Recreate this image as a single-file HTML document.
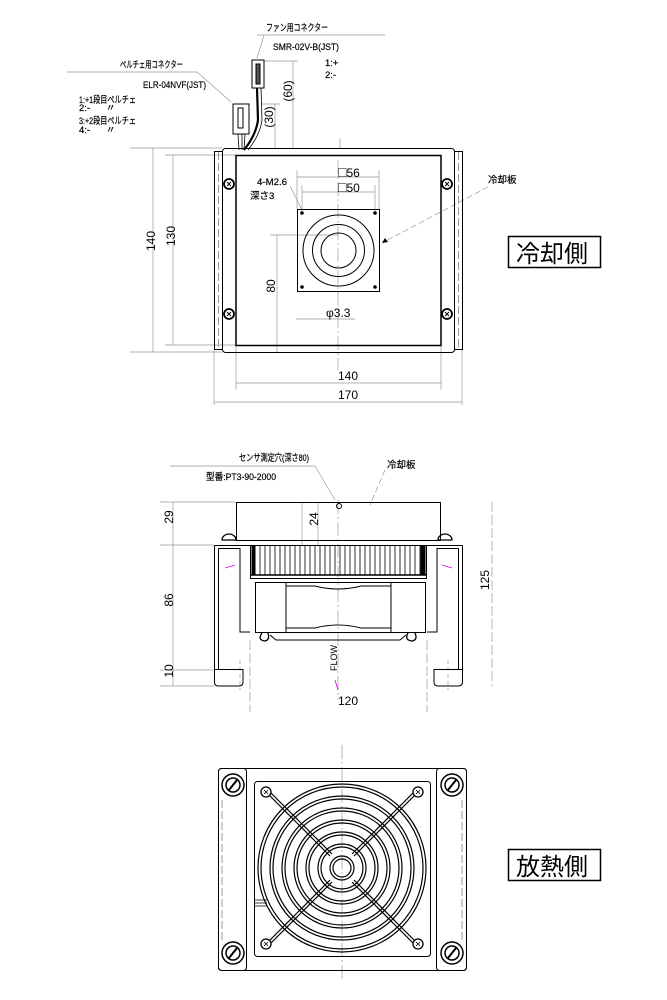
<!DOCTYPE html>
<html><head><meta charset="utf-8"><style>
html,body{margin:0;padding:0;background:#fff}
svg{display:block}
text{font-family:"Liberation Sans","Noto Sans CJK JP",sans-serif;fill:#000}
.t{font-size:12px}
.s{font-size:9.5px;stroke:#000;stroke-width:0.2}
</style></head><body>
<svg width="667" height="1000" viewBox="0 0 667 1000" xmlns="http://www.w3.org/2000/svg">
<g fill="none" stroke="#000" stroke-width="1">
<g stroke="#999" stroke-width="0.7">
<line x1="257" y1="35" x2="385" y2="35"/>
<line x1="67" y1="72" x2="197" y2="72"/>
<line x1="197" y1="72" x2="231" y2="102"/>
<line x1="264" y1="35" x2="257" y2="58"/>
<line x1="264" y1="61" x2="298" y2="61"/>
<line x1="293" y1="61" x2="293" y2="148"/>
<line x1="262" y1="104" x2="280" y2="104"/>
<line x1="275" y1="104" x2="275" y2="148"/>
<line x1="340" y1="138" x2="340" y2="148"/>
<line x1="130" y1="148" x2="222" y2="148"/>
<line x1="130" y1="352" x2="222" y2="352"/>
<line x1="153" y1="148" x2="153" y2="352"/>
<line x1="165" y1="155" x2="236" y2="155"/>
<line x1="165" y1="345" x2="236" y2="345"/>
<line x1="173" y1="155" x2="173" y2="345"/>
<line x1="236" y1="345" x2="236" y2="390"/>
<line x1="441" y1="345" x2="441" y2="390"/>
<line x1="236" y1="383" x2="441" y2="383"/>
<line x1="214" y1="350" x2="214" y2="405"/>
<line x1="462" y1="350" x2="462" y2="405"/>
<line x1="214" y1="402" x2="462" y2="402"/>
<line x1="270" y1="235" x2="338" y2="235"/>
<line x1="277" y1="235" x2="277" y2="352"/>
<line x1="297" y1="170" x2="297" y2="209"/>
<line x1="379" y1="170" x2="379" y2="209"/>
<line x1="297" y1="177" x2="379" y2="177"/>
<line x1="302" y1="185" x2="302" y2="212"/>
<line x1="375" y1="185" x2="375" y2="212"/>
<line x1="302" y1="192" x2="375" y2="192"/>
<line x1="296" y1="319" x2="355" y2="319"/>
<line x1="290" y1="186" x2="302" y2="210"/>
<line x1="338" y1="160" x2="338" y2="370" stroke-dasharray="14 3 2 3"/>
<line x1="488" y1="187" x2="382" y2="243" stroke-dasharray="6 3"/>
</g>
<rect x="252" y="60" width="12" height="28"/>
<rect x="256" y="64" width="4" height="20" fill="#555"/>
<path d="M257 88 L258 120 Q256 135 244 150" stroke-width="2.2"/>
<path d="M261 88 L262 120 Q260 135 248 150" stroke-width="0.8"/>
<rect x="233" y="104" width="16" height="30"/>
<rect x="238" y="108" width="5" height="20"/>
<path d="M238 134 L239 150 M242 134 L242 150 M245 134 L244 150" stroke-width="0.8"/>
<rect x="214.5" y="151.5" width="8" height="198"/>
<rect x="454.5" y="151.5" width="8" height="198"/>
<line x1="218.5" y1="152" x2="218.5" y2="349" stroke="#999" stroke-dasharray="8 3"/>
<line x1="458.5" y1="152" x2="458.5" y2="349" stroke="#999" stroke-dasharray="8 3"/>
<rect x="222.5" y="148.5" width="232" height="204" rx="3"/>
<rect x="236" y="155.5" width="205" height="190" stroke-width="1.5"/>
<g stroke-width="1.8"><circle cx="229" cy="184" r="5"/><circle cx="229" cy="314" r="5"/><circle cx="447" cy="184" r="5"/><circle cx="447" cy="314" r="5"/></g>
<g stroke-width="0.9"><path d="M227 182l4 4M231 182l-4 4M227 312l4 4M231 312l-4 4M445 182l4 4M449 182l-4 4M445 312l4 4M449 312l-4 4"/></g>
<rect x="297.5" y="209.5" width="82" height="82"/>
<circle cx="338.5" cy="250.5" r="35.5"/>
<circle cx="338.5" cy="250.5" r="26"/>
<circle cx="338.5" cy="250.5" r="17.5"/>
<g fill="#000" stroke="none"><circle cx="302" cy="213" r="1.8"/><circle cx="375" cy="213" r="1.8"/><circle cx="302" cy="287" r="1.8"/><circle cx="375" cy="287" r="1.8"/></g>
<path d="M382 243 l6 -1 l-3 -4z" fill="#000" stroke="none"/>
<rect x="508.5" y="236.5" width="92" height="31" stroke-width="1.5"/>

<g stroke="#999" stroke-width="0.7">
<line x1="170" y1="466" x2="315" y2="466"/>
<line x1="315" y1="466" x2="335" y2="500"/>
<line x1="385" y1="470" x2="370" y2="505" stroke-dasharray="6 3"/>
<line x1="160" y1="502" x2="236" y2="502"/>
<line x1="160" y1="545" x2="214" y2="545"/>
<line x1="160" y1="670" x2="214" y2="670"/>
<line x1="160" y1="686" x2="214" y2="686"/>
<line x1="173" y1="502" x2="173" y2="686"/>
<line x1="318" y1="502" x2="318" y2="545"/>
<line x1="302" y1="502" x2="302" y2="545"/>
<line x1="492" y1="502" x2="492" y2="686" stroke-dasharray="10 3"/>
<line x1="250" y1="640" x2="250" y2="712" stroke-dasharray="10 3"/>
<line x1="427" y1="640" x2="427" y2="712" stroke-dasharray="10 3"/>
<line x1="240" y1="660" x2="240" y2="690" stroke-dasharray="4 3"/>
<line x1="448" y1="660" x2="448" y2="690" stroke-dasharray="4 3"/>
<line x1="338" y1="500" x2="338" y2="700" stroke-dasharray="14 3 2 3"/>
</g>
<rect x="236.5" y="502.5" width="204" height="38"/>
<circle cx="339" cy="506" r="2.5"/>
<path d="M222 540 a7 6 0 0 1 14 0z M438 540 a7 6 0 0 1 14 0z" stroke-width="1.3"/>
<path d="M214.5 545.5 H250 M214.5 545.5 V670 M218.5 548.5 V670 M218.5 548.5 H240 V632 H250"/>
<path d="M462.5 545.5 H427 M462.5 545.5 V670 M458.5 548.5 V670 M458.5 548.5 H437 V632 H427"/>
<path d="M214.5 669.5 H243 V682 Q243 686 239 686 H218 Q214.5 686 214.5 682z"/>
<path d="M434 669.5 H462.5 V682 Q462.5 686 458 686 H438 Q434 686 434 682z"/>
<line x1="225" y1="568" x2="235" y2="565" stroke="#d0d" stroke-width="0.8"/>
<line x1="442" y1="565" x2="452" y2="568" stroke="#d0d" stroke-width="0.8"/>
<rect x="250.5" y="545.5" width="176" height="33"/>
<line x1="250" y1="575" x2="427" y2="575" stroke-width="1.5"/>
<path d="M255 546V575M260 546V575M265 546V575M270 546V575M275 546V575M280 546V575M285 546V575M290 546V575M295 546V575M300 546V575M305 546V575M310 546V575M315 546V575M320 546V575M325 546V575M330 546V575M335 546V575M340 546V575M345 546V575M350 546V575M355 546V575M360 546V575M365 546V575M370 546V575M375 546V575M380 546V575M385 546V575M390 546V575M395 546V575M400 546V575M405 546V575M410 546V575M415 546V575M420 546V575" stroke-width="0.8"/>
<rect x="252" y="546" width="3" height="29" fill="#000"/>
<rect x="421" y="546" width="4" height="29" fill="#000"/>
<rect x="255.5" y="582.5" width="170" height="50"/>
<line x1="286" y1="582" x2="286" y2="632"/>
<line x1="391" y1="582" x2="391" y2="632"/>
<path d="M286 586 H315 Q338 592 361 586 H391 M286 628 H315 Q338 622 361 628 H391"/>
<path d="M262 633 Q257 640 265 641 Q270 640 268 633 M408 633 Q404 640 412 641 Q418 640 415 633" stroke-width="1.3"/>
<path d="M270 635 L276 640 H400 L406 635"/>
<line x1="335" y1="680" x2="338" y2="690" stroke="#d0d" stroke-width="0.8"/>

<line x1="342" y1="745" x2="342" y2="980" stroke="#999" stroke-width="0.7" stroke-dasharray="14 3 2 3"/>
<rect x="218.5" y="768.5" width="248" height="202" rx="3"/>
<rect x="218.5" y="768.5" width="28" height="202" rx="3"/>
<rect x="436.5" y="768.5" width="30" height="202" rx="3"/>
<line x1="222" y1="800" x2="222" y2="940" stroke="#999" stroke-dasharray="8 3"/>
<line x1="462" y1="800" x2="462" y2="940" stroke="#999" stroke-dasharray="8 3"/>
<rect x="254.5" y="781.5" width="176" height="175" rx="3"/>
<g stroke-width="1.2">
<circle cx="342" cy="868" r="84"/><circle cx="342" cy="868" r="81"/>
<circle cx="342" cy="868" r="72"/><circle cx="342" cy="868" r="69"/>
<circle cx="342" cy="868" r="60"/><circle cx="342" cy="868" r="57"/>
<circle cx="342" cy="868" r="48"/><circle cx="342" cy="868" r="45"/>
<circle cx="342" cy="868" r="36"/><circle cx="342" cy="868" r="33"/>
<circle cx="342" cy="868" r="24"/><circle cx="342" cy="868" r="21"/>
<circle cx="342" cy="868" r="12"/><circle cx="342" cy="868" r="9"/>
</g>
<path d="M266 792 L330 856 M268 790 L332 854 M418 792 L354 856 M416 790 L352 854 M266 944 L330 880 M268 946 L332 882 M418 944 L354 880 M416 946 L352 882" stroke-width="1.2"/>
<g stroke-width="1.3" fill="#fff">
<circle cx="266" cy="792" r="5"/><circle cx="418" cy="792" r="5"/><circle cx="266" cy="944" r="5"/><circle cx="418" cy="944" r="5"/>
</g>
<path d="M264 790l4 4M268 790l-4 4M416 790l4 4M420 790l-4 4M264 942l4 4M268 942l-4 4M416 942l4 4M420 942l-4 4" stroke-width="0.8"/>
<g stroke-width="1.5">
<circle cx="233" cy="785" r="11"/><circle cx="233" cy="785" r="7"/>
<circle cx="452" cy="785" r="11"/><circle cx="452" cy="785" r="7"/>
<circle cx="233" cy="953" r="11"/><circle cx="233" cy="953" r="7"/>
<circle cx="452" cy="953" r="11"/><circle cx="452" cy="953" r="7"/>
<path d="M229 790 L237 780 M448 790 L456 780 M229 958 L237 948 M448 958 L456 948" stroke-width="2"/>
</g>
<path d="M255 900 H267 M255 903 H267 M255 906 H267" stroke-width="0.8"/>
<rect x="508.5" y="849.5" width="92" height="31" stroke-width="1.5"/>
</g>

<g class="s">
<text x="266" y="31" textLength="62" lengthAdjust="spacingAndGlyphs">ファン用コネクター</text>
<text x="273" y="50" textLength="66" lengthAdjust="spacingAndGlyphs">SMR-02V-B(JST)</text>
<text x="325" y="66">1:+</text>
<text x="325" y="78">2:-</text>
<text x="120" y="68" textLength="63" lengthAdjust="spacingAndGlyphs">ペルチェ用コネクター</text>
<text x="143" y="88" textLength="63" lengthAdjust="spacingAndGlyphs">ELR-04NVF(JST)</text>
<text x="79" y="103" textLength="57" lengthAdjust="spacingAndGlyphs">1:+1段目ペルチェ</text>
<text x="79" y="111">2:-&#160;&#160;&#160;&#160;&#160;&#160;〃</text>
<text x="79" y="124" textLength="57" lengthAdjust="spacingAndGlyphs">3:+2段目ペルチェ</text>
<text x="79" y="133">4:-&#160;&#160;&#160;&#160;&#160;&#160;〃</text>
<text x="257" y="185" textLength="30" lengthAdjust="spacingAndGlyphs">4-M2.6</text>
<text x="250" y="199">深さ3</text>
<text x="488" y="183">冷却板</text>
<text x="239" y="461" textLength="70" lengthAdjust="spacingAndGlyphs">センサ測定穴(深さ80)</text>
<text x="206" y="480" textLength="70" lengthAdjust="spacingAndGlyphs">型番:PT3-90-2000</text>
<text x="387" y="468">冷却板</text>
</g>
<g class="t">
<text x="338" y="177"><tspan style="font-size:14px">□</tspan>56</text>
<text x="338" y="192"><tspan style="font-size:14px">□</tspan>50</text>
<text x="326" y="317">φ3.3</text>
<text x="338" y="380">140</text>
<text x="338" y="399">170</text>
<text x="338" y="705">120</text>
<text transform="translate(155,241) rotate(-90)" text-anchor="middle">140</text>
<text transform="translate(175,236) rotate(-90)" text-anchor="middle">130</text>
<text transform="translate(275,286) rotate(-90)" text-anchor="middle">80</text>
<text transform="translate(273,117) rotate(-90)" text-anchor="middle">(30)</text>
<text transform="translate(292,91) rotate(-90)" text-anchor="middle">(60)</text>
<text transform="translate(173,517) rotate(-90)" text-anchor="middle">29</text>
<text transform="translate(173,600) rotate(-90)" text-anchor="middle">86</text>
<text transform="translate(173,671) rotate(-90)" text-anchor="middle">10</text>
<text transform="translate(318,519) rotate(-90)" text-anchor="middle">24</text>
<text transform="translate(489,580) rotate(-90)" text-anchor="middle">125</text>
<text transform="translate(337,658) rotate(-90)" text-anchor="middle" style="font-size:9px">FLOW</text>
</g>
<text x="516" y="262" style="font-size:24px">冷却側</text>
<text x="516" y="875" style="font-size:24px">放熱側</text>
</svg>
</body></html>
